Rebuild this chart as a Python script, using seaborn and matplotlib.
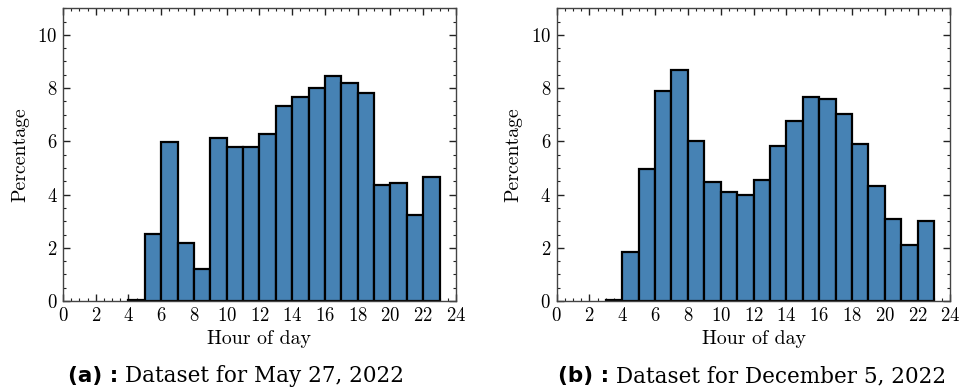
import numpy as np
import pandas as pd
import matplotlib
matplotlib.use("Agg")
import matplotlib.pyplot as plt
import seaborn as sns
from matplotlib.ticker import MultipleLocator

# ---- data ----
hours_a = [4, 5, 6, 7, 8, 9, 10, 11, 12, 13, 14, 15, 16, 17, 18, 19, 20, 21, 22]
pct_a = [0.05, 2.52, 5.98, 2.17, 1.21, 6.13, 5.80, 5.78, 6.28, 7.33, 7.65, 8.01,
         8.45, 8.20, 7.82, 4.36, 4.42, 3.22, 4.66]

hours_b = [3, 4, 5, 6, 7, 8, 9, 10, 11, 12, 13, 14, 15, 16, 17, 18, 19, 20, 21, 22]
pct_b = [0.05, 1.84, 4.97, 7.90, 8.68, 6.03, 4.47, 4.10, 4.00, 4.56, 5.83, 6.77,
         7.65, 7.60, 7.04, 5.91, 4.33, 3.10, 2.11, 3.02]

x_ticks = [0, 2, 4, 6, 8, 10, 12, 14, 16, 18, 20, 22, 24]
y_ticks = [0, 2, 4, 6, 8, 10]
captions = [("(a) :", "Dataset for May 27, 2022"),
            ("(b) :", "Dataset for December 5, 2022")]
caption_centers = [0.245, 0.781]  # figure fractions

sns.set_style("ticks")
plt.rcParams["font.family"] = ["cmr10", "DejaVu Serif"]
plt.rcParams["axes.formatter.use_mathtext"] = True
plt.rcParams["axes.unicode_minus"] = False
plt.rcParams["text.color"] = "black"
plt.rcParams["axes.labelcolor"] = "black"
plt.rcParams["xtick.color"] = "black"
plt.rcParams["ytick.color"] = "black"

fig = plt.figure(figsize=(9.63, 3.92), dpi=100)
ax_a = fig.add_axes([0.0654, 0.232, 0.408, 0.747])
ax_b = fig.add_axes([0.578, 0.232, 0.409, 0.747])

datasets = [(ax_a, hours_a, pct_a), (ax_b, hours_b, pct_b)]
for i, (ax, hrs, pct) in enumerate(datasets):
    df = pd.DataFrame({"hour": hrs, "pct": pct})
    sns.histplot(data=df, x="hour", weights="pct",
                 binwidth=1, binrange=(min(hrs), max(hrs) + 1), ax=ax,
                 color="#4682B4", alpha=1.0, edgecolor="black", linewidth=1.6)
    ax.set_xlim(0, 24)
    ax.set_ylim(0, 11)
    ax.set_xticks(x_ticks)
    ax.set_yticks(y_ticks)
    ax.xaxis.set_minor_locator(MultipleLocator(0.5))
    ax.yaxis.set_minor_locator(MultipleLocator(0.5))
    ax.tick_params(which="both", direction="in", top=True, right=True,
                   labelsize=13.5, color="#222222", labelcolor="black", pad=4)
    ax.tick_params(which="major", length=5, width=1)
    ax.tick_params(which="minor", length=2.5, width=0.8)
    for s in ax.spines.values():
        s.set_color("#444444")
        s.set_linewidth(1.0)
    ax.set_xlabel("Hour of day", fontsize=14.3, labelpad=4, color="black")
    ax.set_ylabel("Percentage", fontsize=14.3, labelpad=6, color="black")
    bold, rest = captions[i]
    fig.text(0.5, 0.04, bold + " ", fontsize=15.5, fontweight="bold",
             family="DejaVu Sans", ha="right", va="center", color="black")
    fig.text(0.5, 0.04, rest, fontsize=15.5, family="DejaVu Serif",
             ha="left", va="center", color="black")

# center each caption at its position
fig.canvas.draw()
r = fig.canvas.get_renderer()
texts = fig.texts
for k in range(0, len(texts), 2):
    tb, tr = texts[k], texts[k + 1]
    bb1 = tb.get_window_extent(r)
    bb2 = tr.get_window_extent(r)
    total = bb1.width + bb2.width
    cx_px = caption_centers[k // 2] * fig.bbox.width
    split = (cx_px - total / 2 + bb1.width) / fig.bbox.width
    tb.set_position((split, 0.04))
    tr.set_position((split, 0.04))

fig.savefig("out.png", dpi=100)
